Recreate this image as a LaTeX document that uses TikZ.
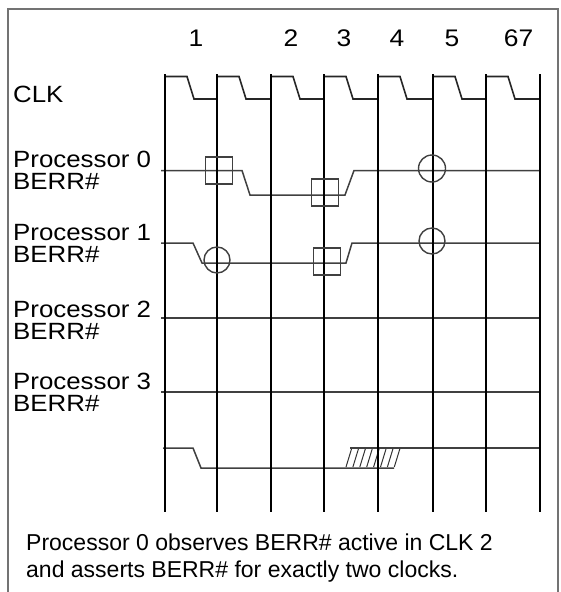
\documentclass[tikz,border=0pt]{standalone}
\usepackage{fontspec}
\setmainfont{Liberation Sans}
\newfontfamily\lblfont[FakeStretch=1.1]{Liberation Sans}
\begin{document}
\begin{tikzpicture}[x=1pt,y=-1pt,
  grid/.style={line width=2.6pt, black},
  sig/.style={line width=1.5pt, black!75, line join=miter},
  clk/.style={line width=1.6pt, black!85},
  obsmark/.style={line width=1.4pt, black!75},
  frame/.style={line width=1.3pt, black!55},
  lbl/.style={anchor=base west, inner sep=0pt, font=\lblfont\fontsize{23.5}{23.5}\selectfont},
  num/.style={anchor=base, inner sep=0pt, font=\lblfont\fontsize{24}{24}\selectfont},
  note/.style={anchor=base west, inner sep=0pt, font=\fontsize{23}{23}\selectfont},
]
\useasboundingbox (0,0) rectangle (560,592);
% outer frame, open at the bottom edge
\draw[frame] (8,600) -- (8,9) -- (558,9) -- (558,600);

% clock numbers
\node[num] (n1) at (196,46) {1};
\node[num] (n2) at (291,46) {2};
\node[num] (n3) at (344,46) {3};
\node[num] (n4) at (397,46) {4};
\node[num] (n5) at (452,46) {5};
\node[num] (n67) at (518.5,46) {67};

% signal names
\node[lbl] (clkname) at (13,102) {CLK};
\node[lbl] (p0a) at (13,167) {Processor 0};
\node[lbl] (p0b) at (13,189) {BERR\#};
\node[lbl] (p1a) at (13,240) {Processor 1};
\node[lbl] (p1b) at (13,262) {BERR\#};
\node[lbl] (p2a) at (13,317) {Processor 2};
\node[lbl] (p2b) at (13,339) {BERR\#};
\node[lbl] (p3a) at (13,389) {Processor 3};
\node[lbl] (p3b) at (13,411) {BERR\#};

% clock waveform
\foreach \a/\b in {165/217,217/271,271/324,324/378,378/433,433/486,486/540}
  \draw[clk] (\a,76.5) -- (\a+22,76.5) -- (\a+29,99) -- (\b,99);

% Processor 0 BERR#
\draw[sig] (161,170.5) -- (242,170.5) -- (250,195) -- (345,195) -- (354,170.5) -- (540,170.5);
% Processor 1 BERR#
\draw[sig] (161,243) -- (193,243) -- (202,263) -- (346,263) -- (352,243) -- (540,243);
% Processor 2 and 3 BERR#
\draw[sig] (161,318) -- (540,318);
\draw[sig] (161,392) -- (540,392);
% combined BERR#
\draw[sig] (163,448) -- (193,448) -- (201,468) -- (394,468);
\draw[sig] (350,448) -- (540,448);
\foreach \k in {0,...,7}
  \draw[line width=1pt, black!80] (346+\k*6.9,467) -- (351.5+\k*6.9,449);

% clock edge grid lines
\foreach \x in {165,217,271,324,378,433,486,540}
  \draw[grid] (\x,74) -- (\x,512);

% sampling marks
\draw[obsmark] (205.5,157) rectangle (232.5,184);
\draw[obsmark] (311.5,179) rectangle (338.5,206);
\draw[obsmark] (432,168.5) circle[radius=13.5];
\draw[obsmark] (217,260) circle[radius=13];
\draw[obsmark] (313.5,248) rectangle (340.5,275);
\draw[obsmark] (432,241) circle[radius=13];

% caption
\node[note] (cap1) at (26,550.5) {Processor 0 observes BERR\# active in CLK 2};
\node[note] (cap2) at (26,577) {and asserts BERR\# for exactly two clocks.};
\end{tikzpicture}
\end{document}
